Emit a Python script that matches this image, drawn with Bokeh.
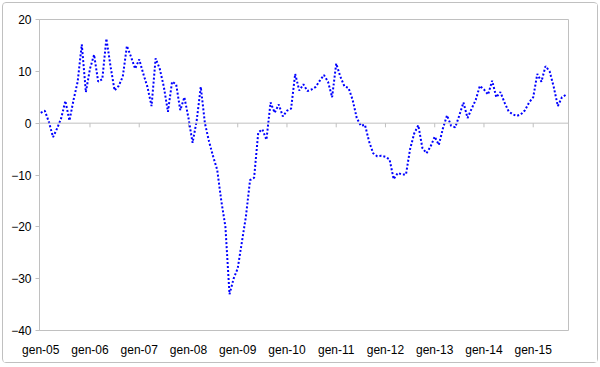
from bokeh.plotting import figure
from bokeh.models import Span, Range1d, FixedTicker, ColumnDataSource
from bokeh.embed import file_html
from bokeh.resources import INLINE

# Monthly values, gen-05 (Jan 2005) .. set-15 (Sep 2015)
values = [
    2.0, 2.4, 0.2, -2.7, -1.0, 1.0, 4.3, 0.5, 4.5, 8.0, 15.2, 6.0,
    10.5, 13.2, 8.0, 8.5, 16.3, 11.0, 6.3, 7.2, 9.0, 14.9, 12.8, 10.5,
    12.3, 9.5, 7.0, 3.3, 12.5, 10.5, 7.0, 2.2, 8.0, 7.5, 2.5, 5.0,
    1.0, -3.8, 0.5, 7.0, 0.0, -3.5, -6.4, -9.0, -15.0, -20.0, -33.0, -30.0,
    -28.0, -23.0, -18.0, -11.0, -10.5, -1.8, -1.2, -3.2, 4.0, 2.0, 3.6, 1.3,
    2.4, 2.8, 9.5, 6.3, 7.5, 6.2, 6.5, 7.0, 8.2, 9.3, 8.0, 5.0,
    11.5, 9.0, 7.1, 6.8, 4.5, 1.0, -0.5, -0.3, -3.5, -5.8, -6.4, -6.3,
    -6.5, -7.0, -10.8, -9.6, -9.9, -9.9, -5.0, -2.0, -0.4, -4.8, -5.8, -4.5,
    -2.6, -4.2, -1.0, 1.5, -0.5, -0.8, 1.5, 4.0, 1.0, 2.8, 4.5, 7.2,
    6.5, 5.5, 8.2, 5.0, 6.0, 4.0, 2.3, 1.7, 1.4, 1.7, 2.5, 4.0,
    5.0, 9.5, 8.0, 11.0, 10.0, 7.0, 3.3, 5.0, 5.5,
]
months = list(range(len(values)))

tick_labels = ["gen-05", "gen-06", "gen-07", "gen-08", "gen-09", "gen-10",
               "gen-11", "gen-12", "gen-13", "gen-14", "gen-15"]
tick_months = [12 * i for i in range(len(tick_labels))]
y_ticks = [20, 10, 0, -10, -20, -30, -40]

GRAY = "#c0c0c0"
FONT = "Liberation Sans"

p = figure(width=594, height=359, output_backend="svg", toolbar_location=None,
           x_range=Range1d(-0.3, 128.6), y_range=Range1d(-40, 20),
           min_border_left=36, min_border_right=29, min_border_top=16,
           min_border_bottom=32)
p.styles = {"margin-left": "3px", "margin-top": "3px",
            "outline": "1px solid " + GRAY, "border-radius": "3px"}
p.outline_line_color = GRAY
p.outline_line_width = 1
p.xgrid.visible = False
p.ygrid.visible = False

# y axis
p.yaxis.ticker = FixedTicker(ticks=y_ticks)
p.yaxis.axis_line_color = GRAY
p.yaxis.major_tick_line_color = GRAY
p.yaxis.major_tick_out = 4
p.yaxis.major_tick_in = 0
p.yaxis.minor_tick_line_color = None
p.yaxis.major_label_text_font = FONT
p.yaxis.major_label_text_font_size = "12px"
p.yaxis.major_label_text_color = "black"
p.yaxis.major_label_standoff = 4

# x axis (labels only at bottom)
p.xaxis.ticker = FixedTicker(ticks=tick_months)
p.xaxis.major_label_overrides = {m: lab for m, lab in zip(tick_months, tick_labels)}
p.xaxis.axis_line_color = None
p.xaxis.major_tick_line_color = None
p.xaxis.minor_tick_line_color = None
p.xaxis.major_tick_out = 0
p.xaxis.major_label_standoff = 12
p.xaxis.major_label_text_font = FONT
p.xaxis.major_label_text_font_size = "12px"
p.xaxis.major_label_text_color = "black"

# zero line with year tick marks
p.add_layout(Span(location=0, dimension="width", line_color=GRAY, line_width=1))
tk = ColumnDataSource(dict(x=tick_months[1:], y0=[0] * (len(tick_months) - 1),
                           y1=[-0.8] * (len(tick_months) - 1)))
p.segment(x0="x", x1="x", y0="y0", y1="y1", source=tk, line_color=GRAY, line_width=1)

src = ColumnDataSource(dict(x=months, y=values))
p.line("x", "y", source=src, line_color="#0000ff", line_width=2, line_dash="2 2")

open("out.html", "w").write(file_html(p, INLINE))
